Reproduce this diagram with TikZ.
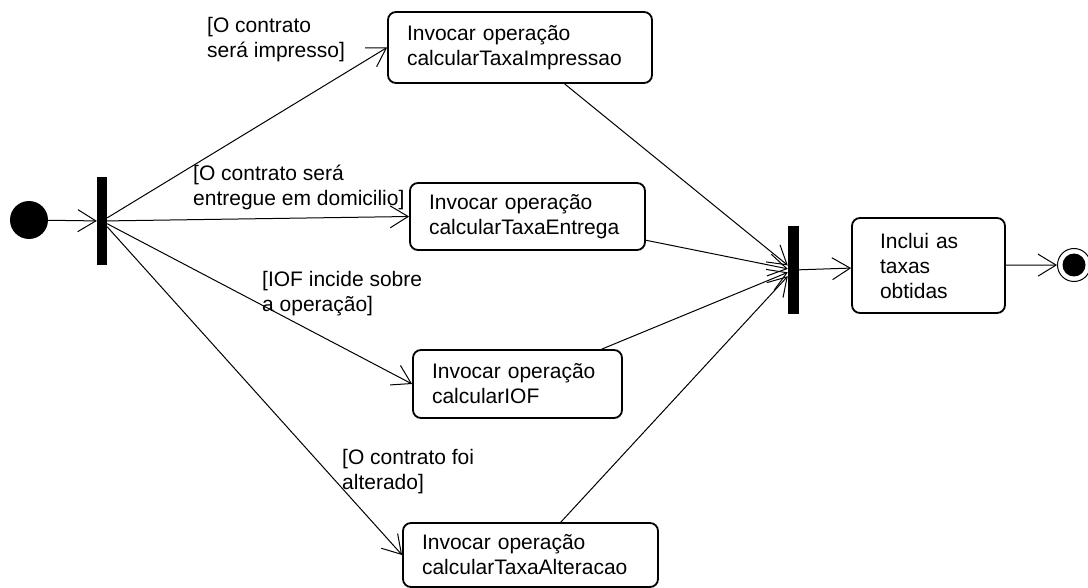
\documentclass[tikz,border=0pt]{standalone}
\usepackage{fontspec}
\setmainfont{Liberation Sans}
\usetikzlibrary{arrows.meta,shapes,positioning}

\begin{document}
\begin{tikzpicture}[x=1pt, y=-1pt,
		acao/.style={draw, line width=1.8pt, rounded corners=8pt, align=left, inner xsep=19pt, inner ysep=0pt, text width=#1},
		barra/.style={fill=black, inner sep=0pt, minimum width=10pt, minimum height=88pt},
		guarda/.style={align=left, inner sep=0pt, anchor=west},
		inicial/.style={circle, fill=black, inner sep=0pt, minimum size=38pt},
		estadofinal/.style={circle, draw, line width=1pt, inner sep=0pt, minimum size=33pt,
			path picture={\fill (path picture bounding box.center) circle (11.5pt);}},
		fluxo/.style={line width=1pt, -{Straight Barb[length=18pt, width=22pt]}}]
		\tikzstyle{every node}=[font=\fontsize{21}{25}\selectfont]
		\useasboundingbox (0,0) rectangle (1088,588);
		% estados e barras
		\node [inicial] (inicio) at (29,220) {};
		\node [barra] (fork) at (102,221) {};
		\node [barra, minimum width=11pt] (join) at (793.5,270) {};
		\node [estadofinal] (fim) at (1074,265) {};
		% atividades
		\node [acao=226pt, minimum height=71pt] (impr) at (520,47.5) {Invocar operação\\calcularTaxaImpressao};
		\node [acao=197pt, minimum height=67pt] (entrega) at (527.5,216.5) {Invocar operação\\calcularTaxaEntrega};
		\node [acao=171pt, minimum height=68pt] (iof) at (517.5,384) {Invocar operação\\calcularIOF};
		\node [acao=217pt, minimum height=64pt] (alter) at (530.5,555) {Invocar operação\\calcularTaxaAlteracao};
		\node [acao=97pt, inner xsep=28pt, minimum height=95pt] (inclui) at (928.5,265.5) {Inclui as\\taxas\\obtidas};
		% guardas
		\node [guarda] (g1) at (207,40) {[O contrato\\será impresso]};
		\node [guarda] (g2) at (193,187) {[O contrato será\\entregue em domicilio]};
		\node [guarda] (g3) at (262,294) {[IOF incide sobre\\a operação]};
		\node [guarda] (g4) at (342,472) {[O contrato foi\\alterado]};
		% fluxos
		\draw [fluxo] (inicio) -- (fork);
		\draw [fluxo] (fork) -- (impr.west);
		\draw [fluxo] (fork) -- (entrega.west);
		\draw [fluxo] (fork) -- (iof.west);
		\draw [fluxo] (fork) -- (alter.west);
		\draw [fluxo] (impr) -- (join);
		\draw [fluxo] (entrega) -- (join);
		\draw [fluxo] (iof) -- (join);
		\draw [fluxo] (alter) -- (join);
		\draw [fluxo] (join) -- (inclui);
		\draw [fluxo] (inclui) -- (fim);
\end{tikzpicture}
\end{document}
